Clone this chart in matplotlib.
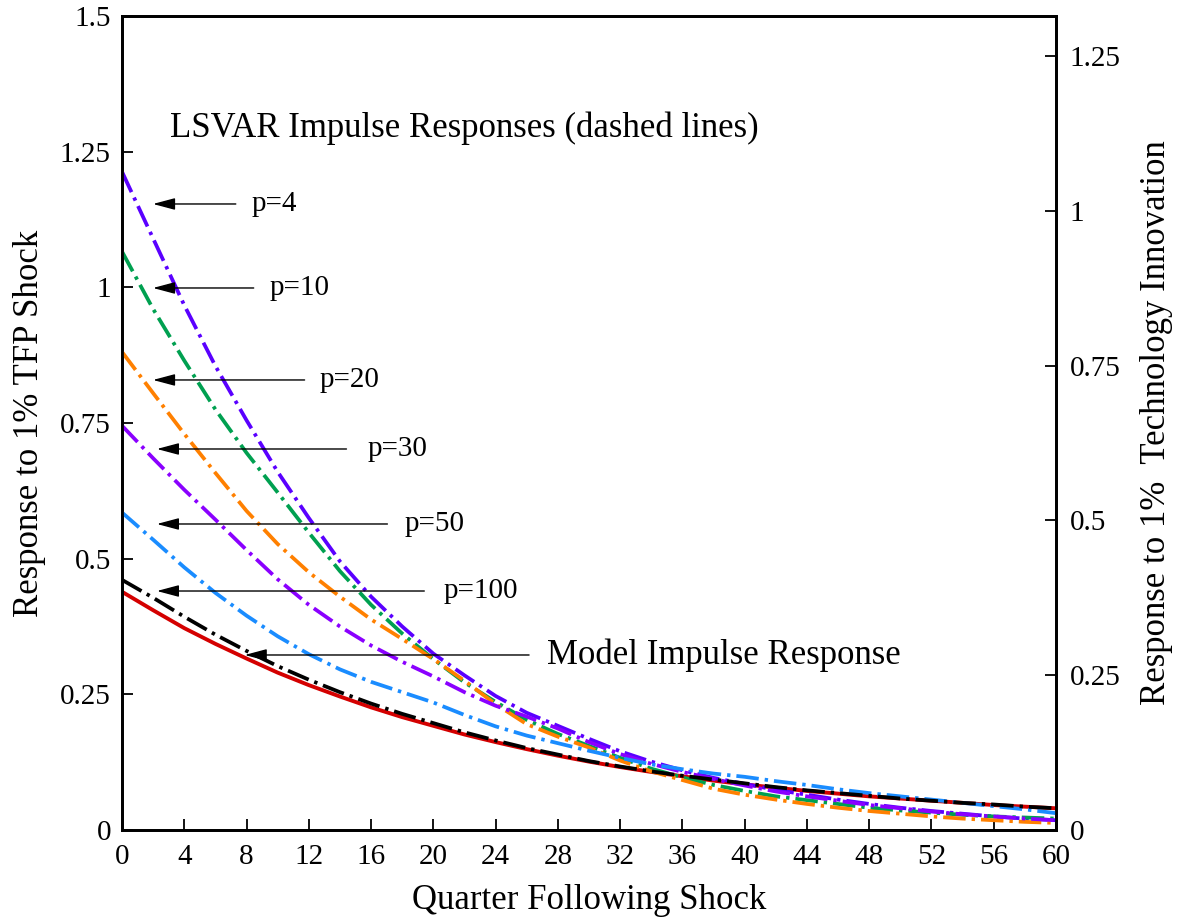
import matplotlib
matplotlib.use("Agg")
import matplotlib.pyplot as plt

plt.rcParams['font.family'] = ['Liberation Serif', 'DejaVu Serif']

quarters = list(range(0, 61, 2))

p4 = [1.213, 1.09, 0.967, 0.855, 0.755, 0.66, 0.575, 0.495, 0.43, 0.375, 0.325,
      0.285, 0.247, 0.216, 0.192, 0.168, 0.145, 0.126, 0.11, 0.096, 0.085, 0.074,
      0.065, 0.056, 0.048, 0.041, 0.035, 0.03, 0.025, 0.021, 0.018]
p10 = [1.066, 0.96, 0.865, 0.775, 0.695, 0.622, 0.548, 0.477, 0.415, 0.362, 0.315,
       0.272, 0.236, 0.203, 0.177, 0.155, 0.133, 0.113, 0.097, 0.083, 0.072, 0.062,
       0.055, 0.048, 0.041, 0.036, 0.032, 0.028, 0.025, 0.023, 0.021]
p20 = [0.881, 0.805, 0.73, 0.658, 0.588, 0.527, 0.475, 0.43, 0.388, 0.352, 0.315,
       0.275, 0.232, 0.195, 0.172, 0.152, 0.128, 0.108, 0.092, 0.076, 0.065, 0.056,
       0.048, 0.041, 0.035, 0.030, 0.025, 0.021, 0.018, 0.015, 0.013]
p30 = [0.745, 0.685, 0.627, 0.572, 0.516, 0.462, 0.415, 0.375, 0.34, 0.31, 0.283,
       0.254, 0.229, 0.209, 0.187, 0.162, 0.14, 0.122, 0.107, 0.094, 0.082, 0.071,
       0.062, 0.054, 0.046, 0.04, 0.034, 0.029, 0.025, 0.021, 0.018]
p50 = [0.585, 0.535, 0.484, 0.437, 0.395, 0.357, 0.324, 0.296, 0.273, 0.254, 0.235,
       0.212, 0.191, 0.174, 0.16, 0.146, 0.133, 0.121, 0.112, 0.104, 0.098, 0.09,
       0.083, 0.075, 0.068, 0.062, 0.056, 0.05, 0.044, 0.038, 0.031]
p100 = [0.461, 0.428, 0.393, 0.36, 0.33, 0.302, 0.277, 0.254, 0.233, 0.214, 0.197,
        0.18, 0.165, 0.151, 0.139, 0.127, 0.117, 0.108, 0.1, 0.093, 0.086, 0.079,
        0.073, 0.068, 0.063, 0.058, 0.054, 0.05, 0.047, 0.043, 0.040]
model = [0.439, 0.405, 0.372, 0.343, 0.316, 0.290, 0.267, 0.246, 0.226, 0.208, 0.192,
         0.176, 0.162, 0.149, 0.137, 0.126, 0.116, 0.107, 0.099, 0.091, 0.084, 0.078,
         0.072, 0.067, 0.062, 0.058, 0.054, 0.050, 0.046, 0.043, 0.040]

series_labels = ['p=4', 'p=10', 'p=20', 'p=30', 'p=50', 'p=100']
series_colors = ['#5a00ff', '#00a050', '#ff8000', '#8a00ff', '#1a8cff', '#000000']

# annotation anchors: (arrow tip x, arrow tail x, y, label x)
ann_y = [1.1536, 0.9988, 0.8293, 0.7021, 0.5639, 0.4404]
ann_tip = [1.99, 1.99, 1.99, 2.24, 2.24, 2.24]
ann_tail = [7.31, 8.46, 11.73, 14.42, 17.05, 19.42]
ann_text_x = [8.33, 9.49, 12.69, 15.77, 18.14, 20.64]

x_ticks = list(range(0, 61, 4))
left_ticks = [0, 0.25, 0.5, 0.75, 1, 1.25, 1.5]
left_tick_labels = ['0', '0.25', '0.5', '0.75', '1', '1.25', '1.5']
right_ticks = [0, 0.25, 0.5, 0.75, 1, 1.25]
right_tick_labels = ['0', '0.25', '0.5', '0.75', '1', '1.25']

W, H = 1183, 924
fig = plt.figure(figsize=(W / 100, H / 100), dpi=100)
ax = fig.add_axes([122 / W, (H - 830) / H, (1056 - 122) / W, (830 - 16) / H])

fs = 21
fl = 25
dash = (0, (6.0, 1.6, 0.9, 1.6))
for vals, col in zip([p4, p10, p20, p30, p50, p100], series_colors):
    ax.plot(quarters, vals, color=col, lw=2.7, linestyle=dash, zorder=3)
ax.plot(quarters, model, color='#d40000', lw=2.8, zorder=2)

ax.set_xlim(0, 60)
ax.set_ylim(0, 1.5)
ax.set_xticks(x_ticks)
ax.set_xticklabels([str(t) for t in x_ticks])
ax.set_yticks(left_ticks)
ax.set_yticklabels(left_tick_labels)
ax.tick_params(direction='in', length=8, width=1.3, labelsize=fs, pad=8)
ax.tick_params(axis='x', pad=10)
for s in ax.spines.values():
    s.set_linewidth(2)

ax2 = ax.twinx()
ax2.set_ylim(0, 1.3146)
ax2.set_yticks(right_ticks)
ax2.set_yticklabels(right_tick_labels)
ax2.tick_params(direction='in', length=8, width=1.3, labelsize=fs, pad=10)
for s in ax2.spines.values():
    s.set_linewidth(2)

ax.set_xlabel('Quarter Following Shock', fontsize=fl, labelpad=10)
ax.set_ylabel('Response to 1% TFP Shock', fontsize=fl, labelpad=10)
ax2.set_ylabel('Response to 1%  Technology Innovation', fontsize=fl, labelpad=14)

arrow_kw = dict(arrowstyle='-|>,head_length=0.75,head_width=0.2', color='black',
                lw=1.0, shrinkA=0, shrinkB=0, mutation_scale=18)
for lab, y, tip, tail, tx in zip(series_labels, ann_y, ann_tip, ann_tail, ann_text_x):
    ax.annotate('', xy=(tip, y), xytext=(tail, y), arrowprops=arrow_kw)
    ax.text(tx, y, lab, fontsize=fs, va='center', ha='left')

ax.annotate('', xy=(7.88, 0.3225), xytext=(26.15, 0.3225), arrowprops=arrow_kw)
ax.text(27.31, 0.3225, 'Model Impulse Response', fontsize=fl, va='center', ha='left')
ax.text(3.08, 1.294, 'LSVAR Impulse Responses (dashed lines)', fontsize=fl,
        va='center', ha='left')

fig.savefig('out.png', dpi=100)
